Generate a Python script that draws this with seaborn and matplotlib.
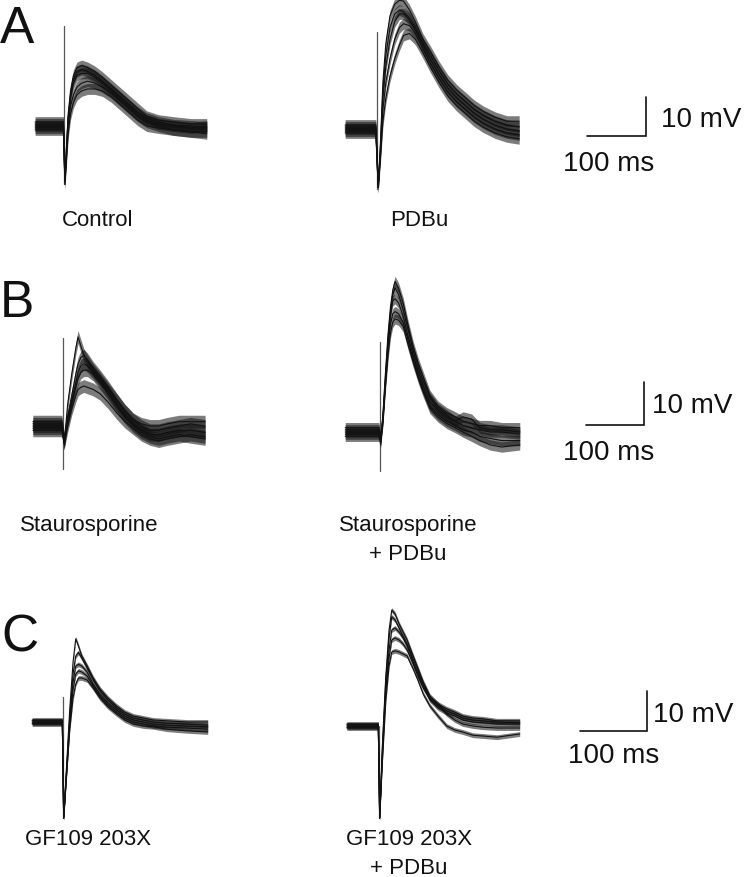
import numpy as np
import pandas as pd
import matplotlib
matplotlib.use("Agg")
import matplotlib.pyplot as plt
import seaborn as sns

# ---------------- data (ms, mV relative to baseline) ----------------
CONTROL_T = [-49, -1, 1.5, 4, 7, 11, 16, 22, 30, 40, 52, 65, 80, 95, 110, 125, 140, 160, 185, 215, 242]
CONTROL_V = [
    [0.5, 0.5, -14, -6, 3, 9, 13, 15, 15.5, 15, 14, 12.5, 10.5, 8.5, 6.5, 4.5, 2.5, 1.5, 1, 0.5, 0.5],
    [-0.5, -0.5, -14.5, -7, 2, 8, 12, 14, 14.5, 14, 13, 11.5, 9.5, 7.5, 5.5, 3.5, 2, 1, 0.3, 0, -0.3],
    [1, 1, -13, -6, 2, 7, 11, 13, 13.5, 13.5, 12.5, 11, 9, 7, 5, 3, 1.5, 0.5, 0, -0.5, 0],
    [0, 0, -14, -8, 0, 5, 8, 10, 11, 11.5, 11, 10, 8.5, 6.5, 4.5, 2.5, 1, 0, -1, -1.5, -1.5],
    [-1, -1, -15, -9, -2, 3, 6, 8, 9, 9.5, 9.5, 9, 7.5, 5.5, 3.5, 1.5, 0, -0.5, -1, -1.5, -2],
]
PDBU_T = [-54, -2, 2, 6, 10, 15, 22, 30, 38, 45, 55, 65, 78, 90, 105, 120, 135, 150, 165, 180, 200, 220, 241]
PDBU_V = [
    [0.5, 0.5, -15, -3, 12, 22, 29, 32, 33, 32.8, 30.5, 27.5, 23, 20, 16, 12.5, 10, 8, 6, 4.5, 3, 2, 2],
    [-0.5, -0.5, -15, -4, 10, 19, 26, 29.5, 30.5, 30, 28.5, 26, 22, 19, 15, 11.5, 9, 7, 5, 3.5, 2, 1, 0.5],
    [1, 1, -14, -5, 8, 16, 23, 27.5, 29.5, 29.5, 28, 25.5, 21.5, 18, 14, 10.5, 8, 6, 4, 2.5, 1, 0, -0.5],
    [0, 0, -14.5, -6, 5, 12, 18, 23, 26, 27, 26.5, 24.5, 20.5, 17, 13, 9.5, 7, 5, 3, 1.5, 0, -1, -1.5],
    [-1, -1, -15, -7, 2, 8, 13.5, 18, 21.5, 24, 24.5, 23, 19.5, 16, 12, 8.5, 6, 4, 2, 0.5, -1, -2, -2.5],
]
STAURO_T = [-52, -2, 2, 8, 15, 22, 26, 31, 36, 42, 52, 64, 78, 93, 107, 121, 135, 150, 165, 180, 200, 220, 245]
STAURO_V = [
    [0.5, 0.5, -4, 5, 12, 18, 20.7, 18.5, 16.5, 15, 13, 11, 8.5, 6, 3.5, 1.5, 0.5, 0, 0, 0.5, 1, 1, 1],
    [-0.5, -0.5, -4, 2, 7, 12, 14.5, 16, 16.3, 15.5, 13.5, 11.5, 9, 6, 3.5, 1.5, 0, -1, -1, -0.5, 0, 0.5, 0],
    [1, 1, -3, 2, 6, 10, 12.5, 14, 14.5, 14, 12.5, 10.5, 8, 5, 2.5, 0.5, -1, -2, -2, -1.5, -1, -1, -1.5],
    [0, 0, -3.5, 1, 5, 9, 11, 12.5, 13, 13, 12, 10, 7.5, 4.5, 2, 0, -1.5, -2.5, -3, -2.5, -2, -2.5, -3],
    [-1, -1, -4, 0, 4, 7, 8.5, 9, 9.3, 9, 8.5, 7.5, 5.5, 3, 1, -0.5, -2, -3, -3.5, -3, -2.5, -2, -2.5],
]
STAURO_PDBU_T = [-60, -2, 1, 5, 9, 14, 18, 22, 26, 32, 40, 48, 57, 66, 74, 86, 100, 115, 130, 143, 158, 172, 190, 210, 241]
STAURO_PDBU_V = [
    [0.5, 0.5, -2, 4, 13, 23, 29, 33, 35, 33.5, 30, 25, 20, 16, 13, 8.5, 6, 4.5, 3.5, 2.5, 2, 1.5, 1.5, 1, 1],
    [-0.5, -0.5, -2, 3.5, 12, 22, 28, 32, 33.5, 32, 28.5, 24, 19, 15, 12, 8, 5.5, 4, 2.5, 1.5, 1, 0.5, 0, 0, -0.5],
    [1, 1, -1.5, 3, 11, 21, 27, 30.5, 31, 30, 27, 22.5, 18, 14, 11, 7, 5, 3.5, 2.5, 3.5, 3, 1, 0.5, 0.5, 0],
    [0, 0, -2, 3, 11, 20, 25, 27.5, 28, 27.5, 25.5, 21.5, 17, 13, 10, 6, 4, 2.5, 1.5, 0.5, 0, -1, -1.5, -2, -2],
    [-1, -1, -2.5, 2.5, 10, 18, 23, 25.5, 26.3, 26, 24.5, 20.5, 16.3, 12.5, 9.5, 5.5, 3.5, 2, 1, 0, -1, -2, -3, -3.5, -3],
]
GF_T = [-46, -1, 1, 5, 10, 15, 19, 23, 28, 36, 45, 55, 67, 80, 92, 105, 120, 135, 155, 185, 216]
GF_V = [
    [0.3, 0.3, -24, -12, 3, 15, 20.8, 19, 16.5, 14, 11, 8.3, 6, 4, 2.5, 1.5, 1, 0.5, 0.3, 0, 0],
    [-0.3, -0.3, -24, -13, 1, 12, 16.5, 17.4, 16, 13.5, 10.5, 7.8, 5.5, 3.5, 2, 1, 0.5, 0, -0.3, -0.5, -0.8],
    [0.5, 0.5, -23, -13, 0, 10, 14, 14.4, 14, 12.5, 9.5, 7, 4.8, 3, 1.5, 0.5, 0, -0.5, -0.8, -1, -1.2],
    [0, 0, -24, -14, -1, 8, 12, 12.8, 12.5, 11.5, 9, 6.5, 4.3, 2.5, 1, 0, -0.5, -1, -1.3, -1.5, -1.8],
    [-0.5, -0.5, -24, -14, -2, 6, 9.5, 11, 11, 10.5, 8.5, 6, 3.8, 2, 0.5, -0.5, -1, -1.2, -1.8, -2.2, -2.5],
]
GF_PDBU_T = [-48, -1, 1, 5, 10, 15, 19, 24, 30, 36, 42, 51, 58, 66, 76, 88, 101, 113, 125, 140, 155, 176, 210]
GF_PDBU_V = [
    [0.3, 0.3, -23, -5, 12, 24, 29, 28, 25.5, 23.5, 21.5, 17.5, 14.5, 11, 7.5, 5.5, 4.3, 3.5, 2.5, 2, 1.8, 1.3, 1.3],
    [-0.3, -0.3, -23, -6, 11, 22, 27.3, 26.5, 24.5, 22.5, 20.5, 16.8, 13.8, 10.5, 7, 5, 3.8, 3, 2, 1.5, 1.3, 1, 0.8],
    [0.5, 0.5, -22, -7, 9, 19, 24, 24.5, 23.5, 22, 20, 16, 13, 10, 6.5, 4.5, 3.3, 2.5, 1.5, 1, 0.8, 0.5, 0.5],
    [0, 0, -23, -8, 8, 17, 21.5, 22, 21.5, 20.5, 19, 15.5, 12.5, 9.5, 6.8, 5.5, 3, 1.5, 0.5, 0, -0.3, -0.5, -0.5],
    [-0.5, -0.5, -23, -9, 6, 15, 18.5, 18.8, 18.5, 18, 17.5, 14.3, 11.5, 8, 5, 2.5, 0, -1, -1.5, -2.3, -2.5, -2.8, -2],
]
# stimulus artifact (top, bottom) in mV
ARTIFACT = {
    "Control": (25.6, -14.9), "PDBu": (25.0, -15.4),
    "Staurosporine": (20.5, -10.0), "Staurosporine\n+ PDBu": (21.0, -9.0),
    "GF109 203X": (6.2, -24.0), "GF109 203X\n+ PDBu": (0.0, -23.0),
}
# recording noise half-amplitude (mV) per panel
NOISE_MV = [1.4, 1.4, 1.5, 1.2, 0.6, 0.6]
SCALE_MS = 100
SCALE_MV = 10
LABELS = ["Control", "PDBu", "Staurosporine", "Staurosporine\n+ PDBu", "GF109 203X", "GF109 203X\n+ PDBu"]
LETTERS = ["A", "B", "C"]

# ---------------- layout (pixels) ----------------
W, H = 750, 878
sns.set_theme(style="white")
plt.rcParams["font.family"] = ["Liberation Sans", "DejaVu Sans"]

fig = plt.figure(figsize=(W / 100, H / 100), dpi=100)
fig.patch.set_facecolor("white")

# row scales: (ms per px, px per mV)
ROW_SCALE = [(100 / 59, 3.9), (100 / 58, 4.3), (100 / 67, 4.0)]
# panel: (stim x px, baseline y px)
PANEL_POS = [(64, 127), (377, 130), (63, 427), (380, 433), (63, 723), (379, 727)]
SERIES = [(CONTROL_T, CONTROL_V), (PDBU_T, PDBU_V), (STAURO_T, STAURO_V),
          (STAURO_PDBU_T, STAURO_PDBU_V), (GF_T, GF_V), (GF_PDBU_T, GF_PDBU_V)]


def make_ax(stim_x, base_y, ms_px, px_mv):
    ax = fig.add_axes([0, 0, 1, 1])
    ax.set_xlim(-stim_x * ms_px, (W - stim_x) * ms_px)
    ax.set_ylim((base_y - H) / px_mv, base_y / px_mv)
    ax.set_axis_off()
    ax.patch.set_alpha(0)
    return ax


axes = []
for i, (label, (tt, vv)) in enumerate(zip(LABELS, SERIES)):
    ms_px, px_mv = ROW_SCALE[i // 2]
    sx, by = PANEL_POS[i]
    ax = make_ax(sx, by, ms_px, px_mv)
    axes.append(ax)
    df = pd.DataFrame({
        "time": np.tile(tt, len(vv)),
        "mV": np.concatenate(vv),
        "trace": np.repeat(np.arange(len(vv)), len(tt)),
    })
    top, bot = ARTIFACT[label]
    ax.plot([0, 0], [top, bot], color="#555555", lw=0.9, zorder=1)
    nz = NOISE_MV[i]
    for v in vv:
        v = np.asarray(v, dtype=float)
        ax.fill_between(tt, v - nz, v + nz, color="#111111", alpha=0.55, lw=0, zorder=1.5)
    sns.lineplot(data=df, x="time", y="mV", units="trace", estimator=None,
                 color="#111111", lw=0.8, ax=ax, legend=False, zorder=2)
    ax.set_axis_off()

# scale bars: corner px per row
SB_CORNER = [(646, 137), (644, 426), (647, 732)]
SB_MV_TEXT = [(661, 127), (652, 413), (653, 722)]
SB_MS_TEXT = [(563, 171), (563, 460), (568, 763)]
for r in range(3):
    ax = axes[2 * r + 1]
    ms_px, px_mv = ROW_SCALE[r]
    sx, by = PANEL_POS[2 * r + 1]
    cx, cy = SB_CORNER[r]
    t0 = (cx - sx) * ms_px
    v0 = (by - cy) / px_mv
    ax.plot([t0 - SCALE_MS, t0, t0], [v0, v0, v0 + SCALE_MV], color="#111111", lw=1.2,
            solid_joinstyle="miter", clip_on=False)
    tx, ty = SB_MV_TEXT[r]
    fig.text(tx / W, 1 - ty / H, f"{SCALE_MV} mV", fontsize=20,
             ha="left", va="baseline", color="#111111")
    tx, ty = SB_MS_TEXT[r]
    fig.text(tx / W, 1 - ty / H, f"{SCALE_MS} ms", fontsize=20,
             ha="left", va="baseline", color="#111111")

# condition labels (center x, baseline y of first line)
LABEL_POS = [(98, 226), (419, 226), (89, 531), (408, 531), (88, 845), (409, 845)]
for lab, (x, y) in zip(LABELS, LABEL_POS):
    lines = lab.split("\n")
    for k, line in enumerate(lines):
        fig.text(x / W, 1 - (y + 29 * k) / H, line, fontsize=16,
                 ha="center", va="baseline", color="#111111")

# panel letters
LETTER_POS = [(0, 43), (0, 317), (1, 652)]
for let, (x, y) in zip(LETTERS, LETTER_POS):
    fig.text(x / W, 1 - y / H, let, fontsize=37,
             ha="left", va="baseline", color="#111111")

fig.savefig("out.png", dpi=100, facecolor="white")
